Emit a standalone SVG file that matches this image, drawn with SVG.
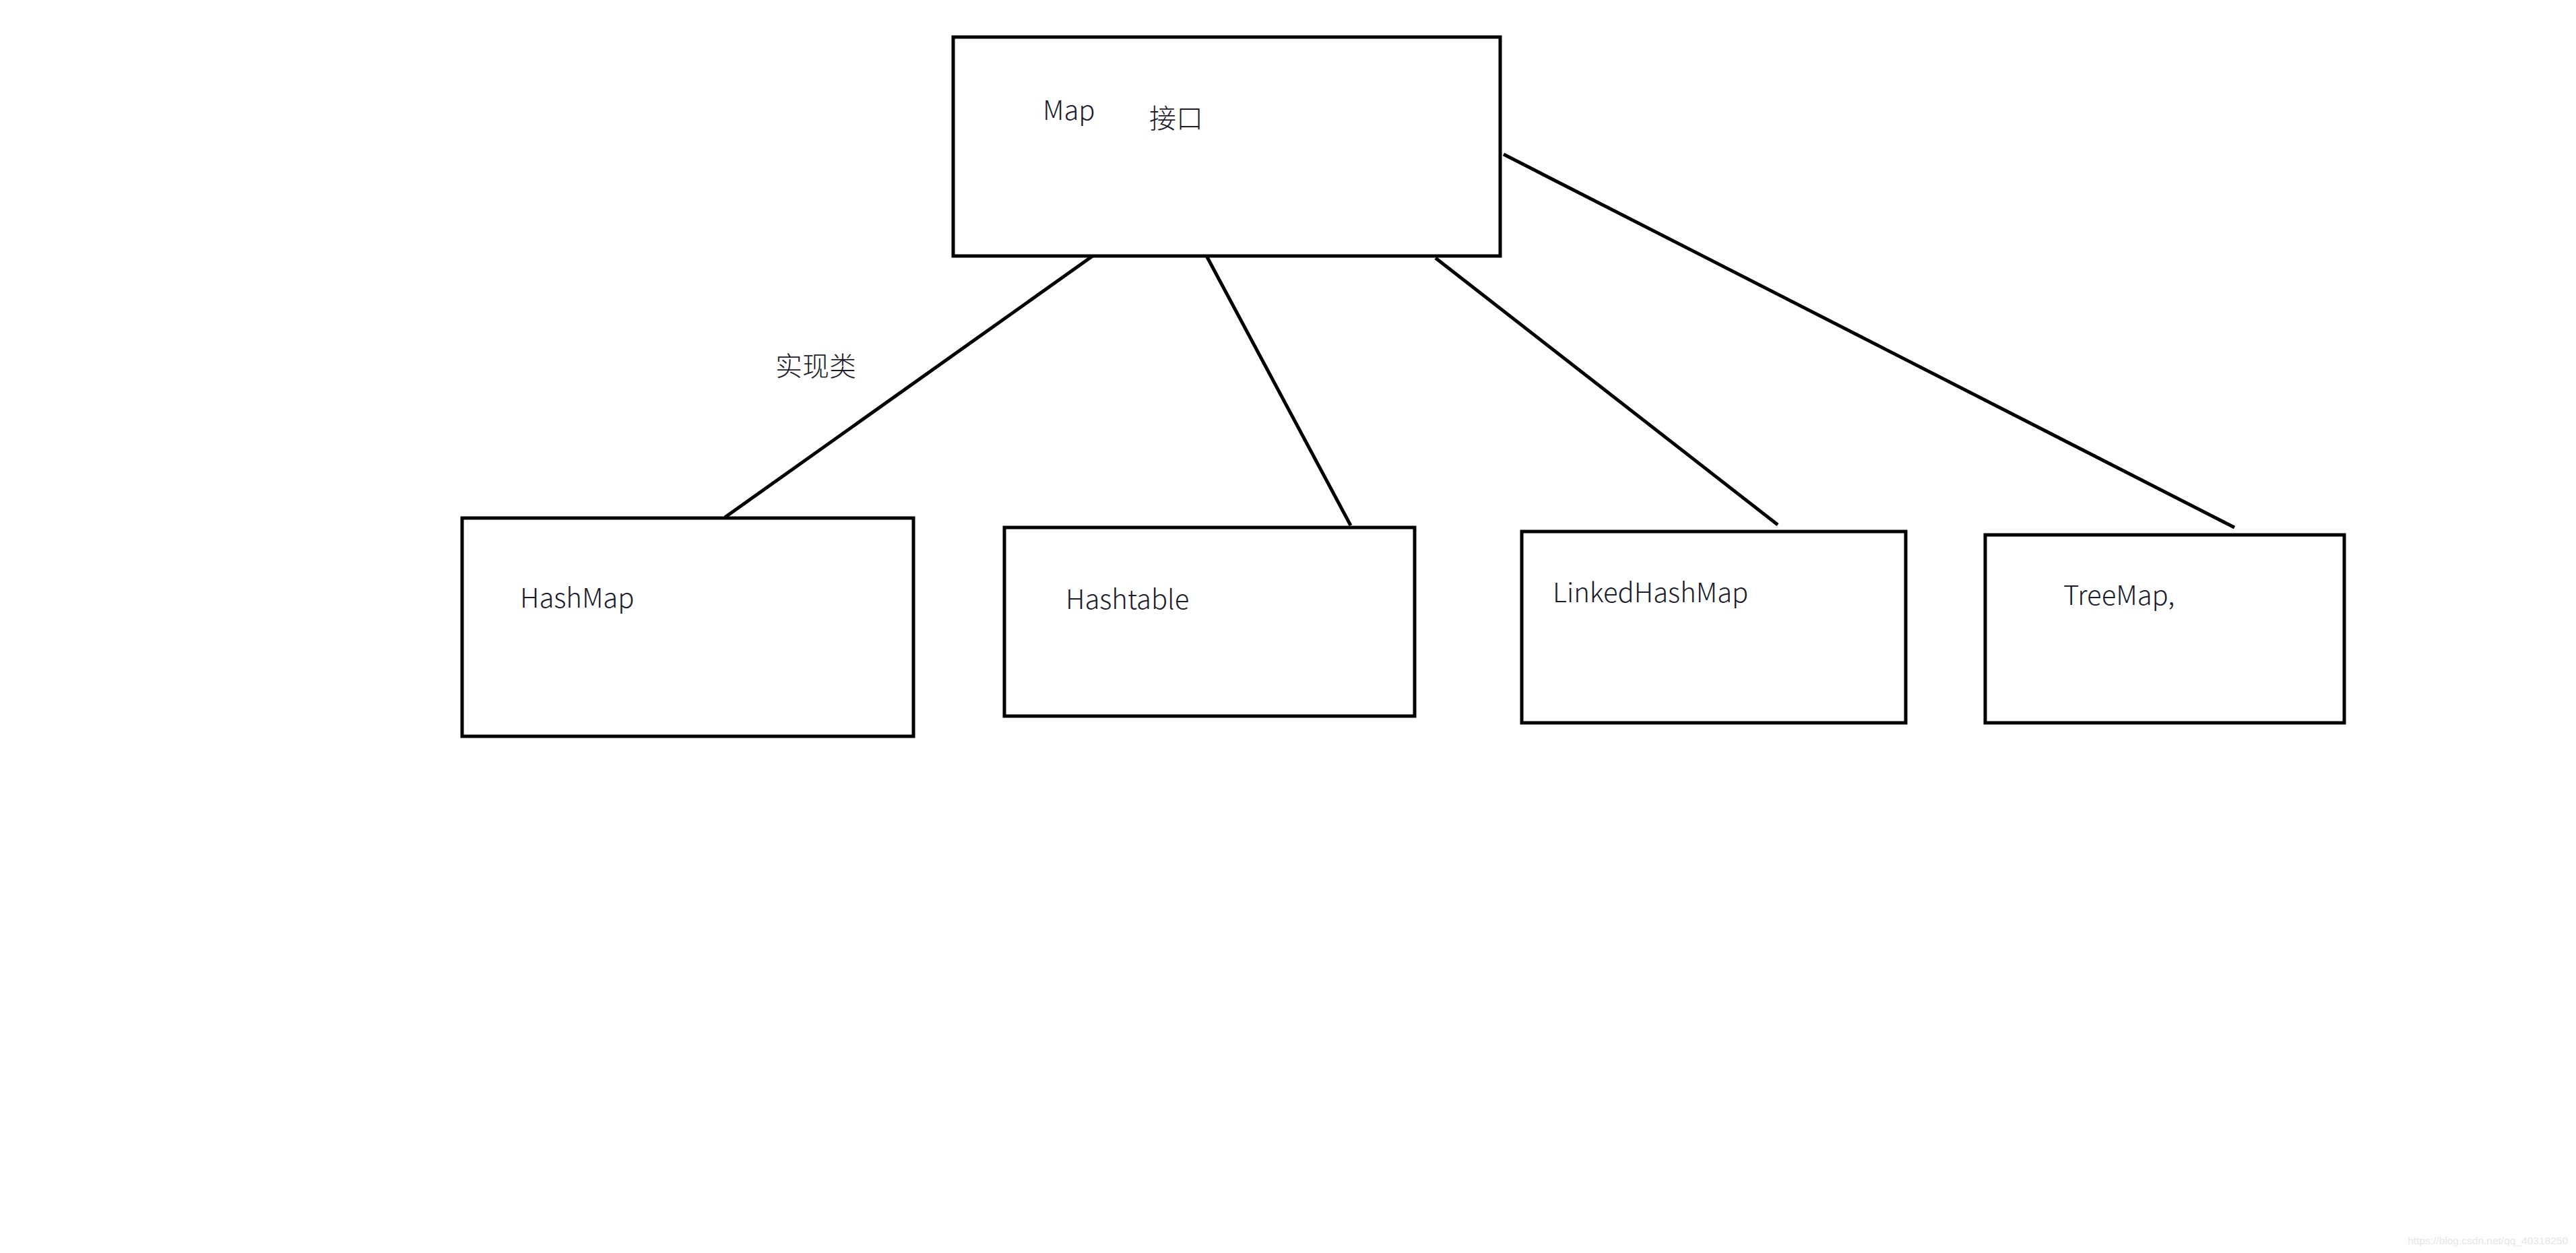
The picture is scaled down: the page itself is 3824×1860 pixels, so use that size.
<svg xmlns="http://www.w3.org/2000/svg" width="3824" height="1860" viewBox="0 0 3824 1860">
<style>
.box{fill:#ffffff;stroke:#000000;stroke-width:5}
.edge{stroke:#000000;stroke-width:5;fill:none}
.lbl{font-family:"Noto Sans CJK SC","Noto Sans",sans-serif;font-weight:300;font-size:40px;fill:#1c1c2c}
.wm{font-family:"Liberation Sans",Arial,sans-serif;font-size:15.5px;fill:#e6e6e6}
</style>
<rect x="0" y="0" width="3824" height="1860" fill="#ffffff"/>
<g id="connectors">
<line class="edge" x1="1622" y1="380" x2="1076" y2="768"/>
<line class="edge" x1="1790" y1="378" x2="2005" y2="780"/>
<line class="edge" x1="2131" y1="383" x2="2639" y2="779"/>
<line class="edge" x1="2232" y1="229" x2="3317" y2="783"/>
</g>
<g id="map">
<rect class="box" x="1415" y="55" width="812" height="325"/>
<text class="lbl" x="1548" y="178">Map</text>
<text class="lbl" x="1706" y="190">接口</text>
</g>
<g id="label-impl">
<text class="lbl" x="1151" y="558">实现类</text>
</g>
<g id="hashmap">
<rect class="box" x="686" y="769" width="670" height="324"/>
<text class="lbl" x="772" y="902">HashMap</text>
</g>
<g id="hashtable">
<rect class="box" x="1491" y="783" width="609" height="280"/>
<text class="lbl" x="1582" y="904">Hashtable</text>
</g>
<g id="linkedhashmap">
<rect class="box" x="2259" y="789" width="570" height="284"/>
<text class="lbl" x="2305" y="894">LinkedHashMap</text>
</g>
<g id="treemap">
<rect class="box" x="2947" y="794" width="533" height="279"/>
<text class="lbl" x="3063" y="898">TreeMap,</text>
</g>
<text class="wm" x="3812" y="1847" text-anchor="end">https://blog.csdn.net/qq_40318250</text>
</svg>
